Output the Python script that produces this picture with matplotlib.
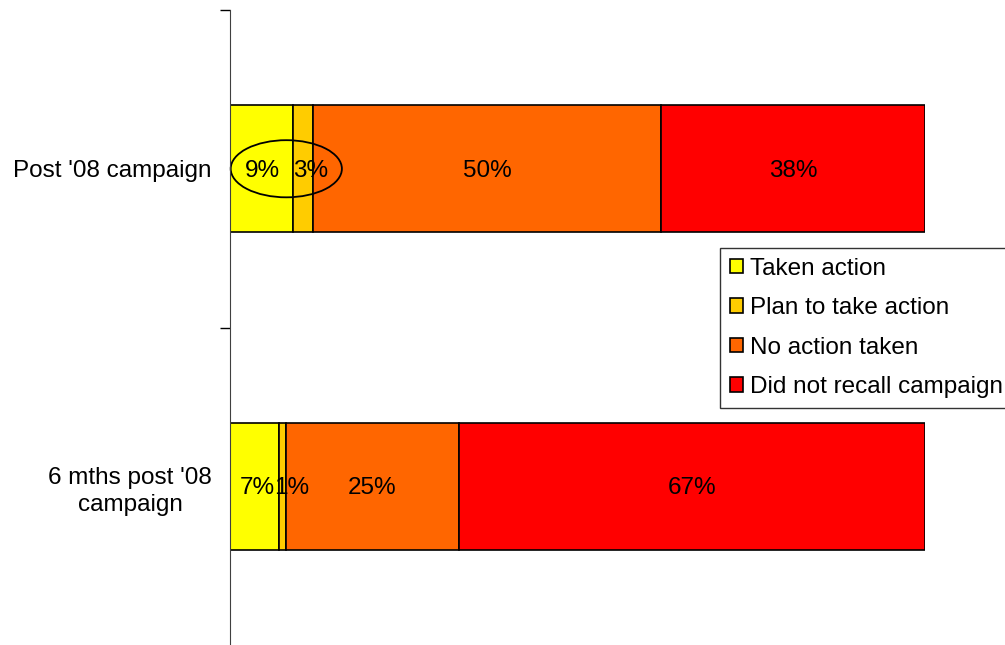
import matplotlib.pyplot as plt
from matplotlib.patches import Ellipse, Patch

plt.rcParams['font.family'] = ['Liberation Sans', 'DejaVu Sans']

categories = ["6 mths post '08\ncampaign", "Post '08 campaign"]
series = ['Taken action', 'Plan to take action', 'No action taken', 'Did not recall campaign']
values = {
    'Taken action': [7, 9],
    'Plan to take action': [1, 3],
    'No action taken': [25, 50],
    'Did not recall campaign': [67, 38],
}
colors = ['#FFFF00', '#FFCC00', '#FF6600', '#FF0000']
fs = 17.5

fig = plt.figure(figsize=(10.05, 6.45), dpi=100)
ax = fig.add_axes([230 / 1005, 0 / 645, 695 / 1005, 635 / 645])

ypos = [0, 1]
left = [0, 0]
for name, col in zip(series, colors):
    vals = values[name]
    ax.barh(ypos, vals, left=left, height=0.4, color=col, edgecolor='black', linewidth=1.2)
    for y, l, v in zip(ypos, left, vals):
        # narrow segments: labels sit a little right of centre, as in the original
        dx = (10 - v) * 0.8 if v < 10 else 0
        ax.annotate(f'{v}%', (l + v / 2, y), xytext=(dx, -1.5), textcoords='offset points',
                    ha='center', va='center', fontsize=fs)
    left = [a + b for a, b in zip(left, vals)]

# circle round the action figures on the top bar
ax.add_patch(Ellipse((8.1, 1.0), 16, 0.18, fill=False, edgecolor='black', linewidth=1.3, clip_on=False))

ax.set_xlim(0, 100)
ax.set_ylim(-0.5, 1.5)
ax.set_yticks([0.5, 1.5])
ax.set_yticklabels([])
ax.set_yticks(ypos, minor=True)
ax.set_yticklabels(categories, minor=True, fontsize=fs, ha='right', multialignment='center',
                   linespacing=1.3)
ax.tick_params(axis='y', which='minor', length=0, pad=13)
ax.tick_params(axis='y', which='major', length=7, width=1, direction='out')
ax.set_xticks([])
for s in ['top', 'right', 'bottom']:
    ax.spines[s].set_visible(False)
ax.spines['left'].set_color('#404040')

handles = [Patch(facecolor=c, edgecolor='black', linewidth=1.2) for c in colors]
leg = fig.legend(handles, series, loc='upper left', bbox_to_anchor=(720 / 1005, 1 - 248 / 645),
                 fontsize=fs, frameon=True, fancybox=False, edgecolor='black',
                 handlelength=0.55, handleheight=0.55, handletextpad=0.3,
                 labelspacing=0.72, borderpad=0.4, borderaxespad=0)
leg.get_frame().set_linewidth(1.0)

fig.savefig('out.png', dpi=100)
